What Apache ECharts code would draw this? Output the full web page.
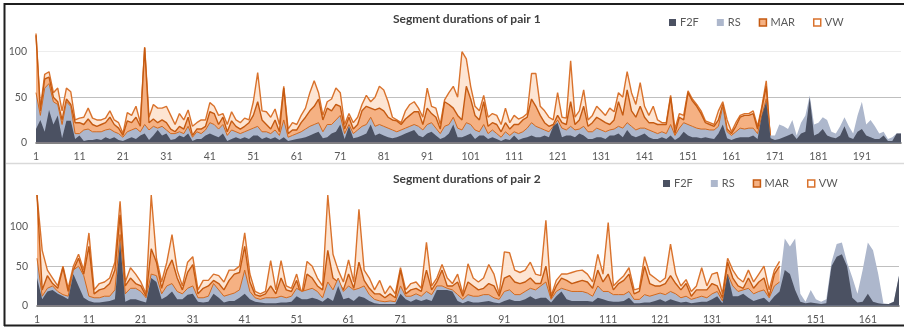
<!DOCTYPE html>
<html>
<head>
<meta charset="utf-8">
<script src="https://cdn.jsdelivr.net/npm/echarts@6/dist/echarts.min.js"></script>
<style>
  html, body { margin: 0; padding: 0; background: #fff; }
  #main { width: 904px; height: 329px; }
</style>
</head>
<body>
<div id="main"></div>
<script>
// pair 1 : 200 segments (MAR / VW stop after 170)
const vw1 = [
  120,37,75,78,55,60,35,60,56,25, 27,28,38,27,25,25,27,35,25,22,
  10,33,30,40,22,105,28,42,38,38, 40,30,20,32,25,36,18,22,25,25,
  44,40,30,32,20,34,25,22,27,25, 45,77,35,34,28,37,20,62,15,22,
  20,30,38,55,68,55,30,45,48,60, 55,20,32,22,28,42,52,45,50,62,
  58,45,28,25,22,35,42,45,38,28, 60,40,38,20,47,55,62,50,100,92,
  62,40,35,52,28,32,30,20,38,22, 30,26,28,32,76,76,40,35,28,25,
  55,28,27,90,28,35,58,25,30,40, 35,30,38,34,55,50,78,55,42,66,
  40,30,40,25,22,22,52,15,32,30, 57,48,42,35,24,22,20,35,45,25,
  12,22,30,32,32,35,18,40,68,0
];
const mar1 = [
  118,35,70,72,50,45,25,48,42,22, 22,20,26,20,18,20,22,28,20,16,
  8,24,22,28,18,104,22,26,22,25, 22,15,12,18,15,28,8,15,15,18,
  34,32,20,28,12,24,18,15,18,22, 30,45,25,20,15,25,12,60,10,14,
  14,22,28,35,40,48,25,38,35,42, 40,15,28,15,20,35,40,38,36,38,
  35,28,25,24,20,26,30,34,34,20, 38,32,28,15,45,42,38,30,25,62,
  48,30,25,45,18,22,20,12,22,15, 20,20,25,28,48,40,30,22,18,20,
  30,22,20,45,20,25,40,18,22,28, 25,22,20,25,45,30,58,35,28,40,
  28,22,22,20,20,20,50,10,28,25, 55,46,40,32,22,20,18,25,42,15,
  10,18,28,30,30,32,15,38,62,0
];
const rs1 = [
  55,30,60,65,45,42,20,45,40,10, 10,14,15,12,12,12,14,15,12,10,
  6,12,14,16,12,20,14,18,16,18, 14,10,10,12,10,18,6,12,10,14,
  22,20,15,20,8,14,12,10,12,14, 16,18,12,12,10,14,8,25,6,8,
  10,12,15,18,20,22,12,20,20,25, 30,10,20,10,14,18,20,28,18,20,
  18,16,14,12,14,16,18,20,18,14, 20,22,16,10,18,20,28,16,14,22,
  20,14,12,20,10,14,10,6,12,8, 12,10,12,16,22,18,16,14,12,18,
  25,16,14,18,14,15,18,12,12,16, 14,12,14,15,18,16,22,18,14,16,
  16,14,12,10,12,10,20,8,16,22, 20,18,16,15,15,14,14,18,40,12,
  8,12,16,15,16,16,10,30,48,8, 8,20,18,15,25,8,22,30,52,20,
  22,28,25,12,10,18,28,18,10,30, 45,20,25,18,10,12,4,6,10,10
];
const f2f1 = [
  15,25,12,36,20,30,5,24,24,4, 8,2,3,3,4,3,6,4,6,3,
  2,4,6,4,8,10,3,8,14,8, 10,3,4,8,6,10,2,4,4,8,
  10,8,6,10,2,4,6,4,6,4, 8,8,4,6,4,6,3,6,2,3,
  4,5,6,8,10,12,5,6,10,12, 20,4,18,5,6,8,10,20,8,10,
  8,6,5,6,8,10,12,14,8,6, 10,12,8,4,6,10,20,6,6,8,
  10,4,8,8,4,6,4,2,4,3, 8,3,5,6,8,6,6,8,6,18,
  22,6,8,8,6,10,8,4,4,6, 6,4,8,8,10,6,14,8,6,8,
  10,6,4,4,6,4,8,3,6,12, 8,6,6,5,6,5,4,10,20,5,
  3,5,6,6,6,8,4,30,45,5, 3,4,6,8,10,4,10,12,50,8,
  10,15,8,6,5,8,18,6,4,12, 15,8,6,4,4,8,2,2,10,10
];

// pair 2 : 167 segments (MAR / VW stop after 144)
const vw2 = [
  140,70,45,35,25,50,22,50,65,45, 92,20,28,30,35,55,132,30,48,40,
  30,15,140,60,30,55,90,45,25,55, 62,20,32,32,40,38,30,45,45,50,
  92,40,18,15,18,57,20,57,25,22, 40,15,56,50,35,25,140,65,45,30,
  58,30,122,45,35,20,32,15,25,15, 48,20,28,30,22,80,25,35,52,35,
  28,40,15,53,35,30,35,52,40,15, 68,67,45,42,45,55,40,38,108,12,
  32,40,40,42,44,45,40,30,65,40, 105,25,32,38,48,20,22,62,40,35,
  30,35,78,40,25,33,18,25,48,25, 40,42,15,60,45,35,30,45,30,40,
  50,20,45,56
];
const mar2 = [
  140,20,38,28,22,48,18,45,60,40, 75,15,20,22,28,45,115,25,35,28,
  25,12,72,55,22,45,58,35,20,42, 52,15,22,25,32,28,20,32,40,42,
  75,30,14,12,15,25,15,35,20,18, 32,10,40,35,25,20,70,35,30,20,
  40,22,55,32,22,15,15,10,15,10, 45,15,20,22,18,45,20,30,45,25,
  25,30,12,30,25,20,22,28,25,12, 35,38,30,28,30,35,28,28,50,10,
  25,35,32,28,30,32,30,22,45,30, 40,20,28,32,40,15,18,50,28,25,
  25,28,38,28,20,28,12,20,20,20, 28,25,10,55,35,25,22,35,22,30,
  35,12,40,50
];
const rs2 = [
  60,12,22,25,18,14,12,45,50,38, 12,10,10,12,12,20,90,15,22,22,
  18,10,40,38,15,25,28,18,15,22, 25,10,10,12,28,20,12,14,16,20,
  45,18,10,8,10,10,10,12,10,12, 22,18,20,22,18,10,30,20,35,18,
  25,20,22,25,14,8,6,5,6,5, 25,12,12,15,12,18,14,25,25,22,
  20,14,8,14,12,12,14,14,10,8, 18,20,14,14,18,22,20,25,30,8,
  18,22,20,18,18,18,16,12,25,18, 18,14,14,14,18,8,8,14,12,14,
  16,14,18,15,10,12,8,10,12,10, 15,18,6,40,25,18,20,22,15,18,
  20,10,25,30,85,75,85,15,5,20, 8,5,8,55,78,80,55,36,15,45,
  80,70,40,3,2,5,38
];
const f2f2 = [
  35,8,18,20,15,12,8,40,25,10, 6,4,4,5,6,8,81,5,8,8,
  6,4,35,30,8,12,18,8,8,14, 15,5,4,5,15,10,4,6,6,10,
  15,8,5,4,3,3,3,4,4,5, 12,8,8,10,8,5,10,6,25,8,
  10,6,12,10,6,3,2,2,2,2, 15,8,5,8,6,8,6,20,20,20,
  18,6,3,6,4,4,5,6,4,3, 6,8,6,6,8,12,8,10,10,4,
  12,18,8,6,6,6,6,5,10,8, 6,5,5,6,10,3,3,4,4,6,
  8,5,8,6,4,5,3,4,5,5, 8,12,3,40,12,12,15,10,6,8,
  10,4,12,18,45,40,20,5,3,4, 3,2,3,50,62,65,50,10,4,5,
  15,5,3,2,2,5,38
];

const cats1 = rs1.map((_, i) => String(i + 1));
const cats2 = rs2.map((_, i) => String(i + 1));

const C_F2F = '#4b5162';
const C_RS = '#adb7cc';
const C_MAR = '#f5b183';
const C_MAR_LINE = '#c55a11';
const C_VW = '#fde5d3';
const C_VW_LINE = '#d9722c';
const FONT = 'Lato, "Open Sans", sans-serif';

const chartDom = document.getElementById('main');
const myChart = echarts.init(chartDom, null, { renderer: 'canvas' });

function area(name, data, idx, z, fill, line, lw) {
  return {
    name: name,
    type: 'line',
    xAxisIndex: idx,
    yAxisIndex: idx,
    data: data,
    z: z,
    symbol: 'none',
    showSymbol: false,
    lineStyle: { color: line, width: lw },
    itemStyle: { color: fill },
    areaStyle: { color: fill, opacity: 1 },
    emphasis: { disabled: true },
  };
}
// orange edge where the MAR band sits on RS (only where MAR exists)
function edge(data, len, idx) {
  return {
    name: 'MAR edge',
    type: 'line',
    xAxisIndex: idx,
    yAxisIndex: idx,
    data: data.slice(0, len),
    z: 5.5,
    symbol: 'none',
    showSymbol: false,
    lineStyle: { color: '#d2691e', width: 1 },
    emphasis: { disabled: true },
    silent: true,
  };
}

const legendData = [
  { name: 'F2F', icon: 'rect', itemStyle: { color: C_F2F } },
  { name: 'RS', icon: 'rect', itemStyle: { color: C_RS } },
  { name: 'MAR', icon: 'rect', itemStyle: { color: C_MAR, borderColor: C_MAR_LINE, borderWidth: 1.5 } },
  { name: 'VW', icon: 'rect', itemStyle: { color: '#ffffff', borderColor: C_VW_LINE, borderWidth: 1.5 } },
];
const legendBase = {
  orient: 'horizontal',
  itemWidth: 7,
  itemHeight: 7,
  itemGap: 18,
  padding: 0,
  selectedMode: false,
  textStyle: { color: '#595959', fontSize: 11, fontFamily: FONT, padding: [0, 0, 0, -1] },
  data: legendData,
};

function xAxis(idx, cats) {
  return {
    type: 'category',
    gridIndex: idx,
    data: cats,
    boundaryGap: false,
    axisTick: { show: false },
    axisLine: { show: true, lineStyle: { color: '#595959', width: 1.5 } },
    axisLabel: { interval: 9, color: '#595959', fontSize: 10.5, fontFamily: FONT, margin: 8 },
    splitLine: { show: false },
  };
}
function yAxis(idx, max) {
  return {
    type: 'value',
    gridIndex: idx,
    min: 0,
    max: max,
    interval: 50,
    axisLine: { show: false },
    axisTick: { show: false },
    axisLabel: { color: '#595959', fontSize: 10.5, fontFamily: FONT, margin: 9, showMaxLabel: false },
    splitLine: {
      show: true,
      showMaxLine: false,
      lineStyle: { color: ['#d9d9d9', '#bfbfbf', '#ededed', '#ffffff'], width: 1 },
    },
  };
}

const option = {
  animation: false,
  backgroundColor: '#ffffff',
  title: [
    {
      text: 'Segment durations of pair 1',
      left: 393, top: 13, padding: 0,
      textStyle: { fontFamily: FONT, fontSize: 12, fontWeight: 'bold', color: '#404040' },
    },
    {
      text: 'Segment durations of pair 2',
      left: 393, top: 173, padding: 0,
      textStyle: { fontFamily: FONT, fontSize: 12, fontWeight: 'bold', color: '#404040' },
    },
  ],
  legend: [
    Object.assign({}, legendBase, { left: 669, top: 17 }),
    Object.assign({}, legendBase, { left: 663, top: 178 }),
  ],
  grid: [
    { left: 36, right: 3, top: 33.5, height: 109.2 },
    { left: 37, right: 5, top: 195, height: 110.7 },
  ],
  xAxis: [xAxis(0, cats1), xAxis(1, cats2)],
  yAxis: [yAxis(0, 120), yAxis(1, 140)],
  series: [
    area('F2F', f2f1, 0, 6, C_F2F, C_F2F, 0),
    area('RS', rs1, 0, 5, C_RS, C_RS, 0),
    area('MAR', mar1, 0, 4, C_MAR, C_MAR_LINE, 1.4),
    area('VW', vw1, 0, 3, C_VW, C_VW_LINE, 1.4),
    edge(rs1, 170, 0),
    area('F2F', f2f2, 1, 6, C_F2F, C_F2F, 0),
    area('RS', rs2, 1, 5, C_RS, C_RS, 0),
    area('MAR', mar2, 1, 4, C_MAR, C_MAR_LINE, 1.4),
    area('VW', vw2, 1, 3, C_VW, C_VW_LINE, 1.4),
    edge(rs2, 144, 1),
  ],
  graphic: [
    { type: 'line', z: 100, shape: { x1: 4, y1: 4, x2: 904, y2: 4 }, style: { stroke: '#1f1f1f', lineWidth: 2 } },
    { type: 'line', z: 100, shape: { x1: 4.5, y1: 3, x2: 4.5, y2: 326 }, style: { stroke: '#1f1f1f', lineWidth: 2 } },
    { type: 'line', z: 100, shape: { x1: 4, y1: 325.5, x2: 904, y2: 325.5 }, style: { stroke: '#1f1f1f', lineWidth: 2 } },
    { type: 'line', z: 100, shape: { x1: 6, y1: 163.5, x2: 904, y2: 163.5 }, style: { stroke: '#d9d9d9', lineWidth: 1.5 } },
  ],
};

option && myChart.setOption(option);
</script>
</body>
</html>
